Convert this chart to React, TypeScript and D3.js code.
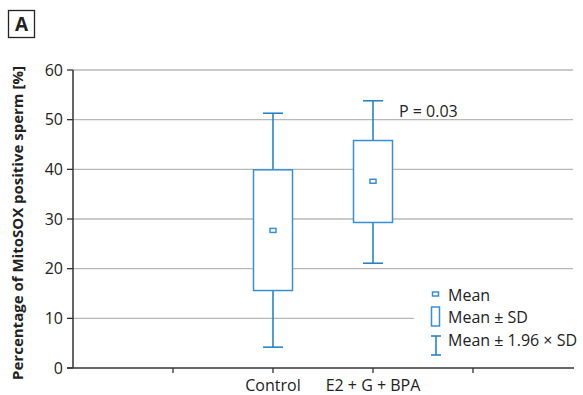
import React from "react";
import * as d3 from "d3";

const slots = ["s0", "s1", "Control", "E2 + G + BPA", "s4", "s5"];
const tickSlots = ["s1", "Control", "E2 + G + BPA", "s4"];
const groups = ["Control", "E2 + G + BPA"];
const means = [27.7, 37.6];
const sdLow = [15.6, 29.3];
const sdHigh = [39.9, 45.8];
const ciLow = [4.2, 21.1];
const ciHigh = [51.3, 53.8];
const yTicks = [0, 10, 20, 30, 40, 50, 60];
const legendLabels = ["Mean", "Mean \u00b1 SD", "Mean \u00b1 1.96 \u00d7 SD"];
const pLabel = "P = 0.03";

const W = 583;
const H = 395;
const margin = { top: 70, right: 10, bottom: 27, left: 73 };
const font = "'Open Sans', 'Noto Sans', sans-serif";
const whiskerColor = "#1b7cc4";
const boxColor = "#3790d4";
const fs = 16;

export default function App() {
  const x = d3
    .scalePoint<string>()
    .domain(slots)
    .range([margin.left, W - margin.right]);
  const y = d3
    .scaleLinear()
    .domain([0, 60])
    .range([H - margin.bottom, margin.top]);

  const boxW = 39;
  const capW = 20;
  const y0 = y(0);

  return (
    <svg
      width={W}
      height={H}
      style={{ position: "absolute", left: 0, top: 0, background: "#fff" }}
      fontFamily={font}
    >
      {/* panel letter */}
      <rect x={8.5} y={10.5} width={26} height={27} fill="none" stroke="#222" strokeWidth={1.3} />
      <text x={21.5} y={31} textAnchor="middle" fontSize={19} fontWeight="bold" fill="#222">
        A
      </text>

      {/* grid */}
      {yTicks.slice(1).map((t) => (
        <line
          key={t}
          x1={margin.left}
          x2={W - margin.right}
          y1={y(t)}
          y2={y(t)}
          stroke="#b8b8b8"
          strokeWidth={1.3}
        />
      ))}

      {/* y axis */}
      <line x1={margin.left} x2={margin.left} y1={y(60)} y2={y0} stroke="#333" strokeWidth={1.5} />
      {yTicks.map((t) => (
        <g key={t}>
          <line x1={margin.left - 6} x2={margin.left} y1={y(t)} y2={y(t)} stroke="#333" strokeWidth={1.3} />
          <text x={margin.left - 10} y={y(t) + 5.5} textAnchor="end" fontSize={fs} fill="#222">
            {t}
          </text>
        </g>
      ))}
      <text
        transform={`translate(23,${(y0 + y(60)) / 2 + 4}) rotate(-90)`}
        textAnchor="middle"
        fontSize={15}
        fontWeight="bold"
        fill="#222"
      >
        Percentage of MitoSOX positive sperm [%]
      </text>

      {/* boxes */}
      {groups.map((g, i) => {
        const cx = x(g) as number;
        return (
          <g key={g}>
            <line x1={cx} x2={cx} y1={y(ciHigh[i])} y2={y(sdHigh[i])} stroke={whiskerColor} strokeWidth={1.5} />
            <line x1={cx} x2={cx} y1={y(sdLow[i])} y2={y(ciLow[i])} stroke={whiskerColor} strokeWidth={1.5} />
            <line x1={cx - capW / 2} x2={cx + capW / 2} y1={y(ciHigh[i])} y2={y(ciHigh[i])} stroke={whiskerColor} strokeWidth={1.5} />
            <line x1={cx - capW / 2} x2={cx + capW / 2} y1={y(ciLow[i])} y2={y(ciLow[i])} stroke={whiskerColor} strokeWidth={1.5} />
            <rect
              x={cx - boxW / 2}
              y={y(sdHigh[i])}
              width={boxW}
              height={y(sdLow[i]) - y(sdHigh[i])}
              fill="#fff"
              stroke={boxColor}
              strokeWidth={1.5}
            />
            <rect x={cx - 3} y={y(means[i]) - 2} width={6} height={4} fill="#fff" stroke={boxColor} strokeWidth={1.5} />
          </g>
        );
      })}

      <text x={399} y={117} fontSize={fs} fill="#222">
        {pLabel}
      </text>

      {/* x axis */}
      <line x1={margin.left - 6} x2={W - 9} y1={y0} y2={y0} stroke="#333" strokeWidth={1.5} />
      {tickSlots.map((s) => (
        <g key={s}>
          <line x1={x(s)} x2={x(s)} y1={y0} y2={y0 + 5} stroke="#333" strokeWidth={1.3} />
          {groups.includes(s) && (
            <text x={x(s)} y={y0 + 22.5} textAnchor="middle" fontSize={fs} fill="#222">
              {s}
            </text>
          )}
        </g>
      ))}

      {/* legend */}
      <g>
        <rect x={414} y={282} width={169} height={78} fill="#fff" />
        <rect x={432.5} y={292} width={6} height={4} fill="#fff" stroke={boxColor} strokeWidth={1.5} />
        <rect x={431.5} y={307} width={8} height={19} fill="#fff" stroke={boxColor} strokeWidth={1.5} />
        <line x1={436} x2={436} y1={336} y2={355} stroke={whiskerColor} strokeWidth={1.5} />
        <line x1={431} x2={441} y1={336} y2={336} stroke={whiskerColor} strokeWidth={1.5} />
        <line x1={431} x2={441} y1={355} y2={355} stroke={whiskerColor} strokeWidth={1.5} />
        {legendLabels.map((l, i) => (
          <text key={l} x={448} y={300.5 + i * 22.5} fontSize={fs} fill="#222">
            {l}
          </text>
        ))}
      </g>
    </svg>
  );
}
